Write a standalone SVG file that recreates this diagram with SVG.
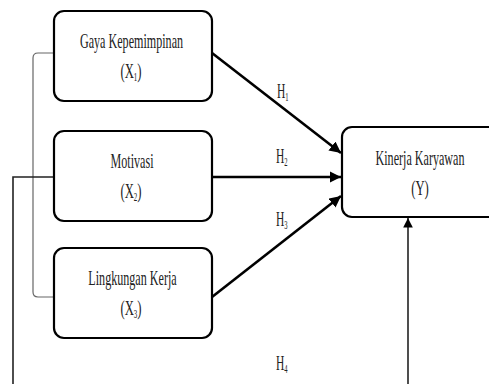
<svg xmlns="http://www.w3.org/2000/svg" width="489" height="384" viewBox="0 0 489 384">
<defs>
<style>
.box{fill:#fff;stroke:#000;stroke-width:2.2}
.t{font-family:"Liberation Serif","Times New Roman",serif;font-size:22px;fill:#222;text-anchor:middle}
.h{font-family:"Liberation Serif","Times New Roman",serif;font-size:21px;fill:#222}
.sub{font-size:12px}
.arr{stroke:#000;stroke-width:2.6;fill:none}
.thin{stroke:#666;stroke-width:1.2;fill:none}
.mid{stroke:#222;stroke-width:1.6;fill:none}
</style>
<marker id="ah" viewBox="0 0 10 10" refX="10" refY="5" markerWidth="4.4" markerHeight="4.4" orient="auto" markerUnits="strokeWidth">
<path d="M0,0 L10,5 L0,10 z" fill="#000"/>
</marker>
<marker id="ah2" viewBox="0 0 10 10" refX="10" refY="5" markerWidth="6" markerHeight="6" orient="auto" markerUnits="strokeWidth">
<path d="M0,0 L10,5 L0,10 z" fill="#000"/>
</marker>
</defs>
<rect width="489" height="384" fill="#fff"/>
<g id="connectors">
<path class="thin" d="M54,53 L38,53 Q33,53 33,58 L33,292 Q33,297 38,297 L54,297"/>
<path class="mid" d="M54,177 L13,177 L13,384"/>
<path class="mid" d="M408,384 L408,218" marker-end="url(#ah2)"/>
<path class="arr" d="M212,53 L341,153" marker-end="url(#ah)"/>
<path class="arr" d="M212,177 L341,177" marker-end="url(#ah)"/>
<path class="arr" d="M212,297 L341,196" marker-end="url(#ah)"/>
<text class="h" transform="translate(277,98) scale(0.55,1)">H<tspan class="sub" dy="3">1</tspan></text>
<text class="h" transform="translate(276,163) scale(0.55,1)">H<tspan class="sub" dy="3">2</tspan></text>
<text class="h" transform="translate(276,226) scale(0.55,1)">H<tspan class="sub" dy="3">3</tspan></text>
<text class="h" transform="translate(276,370) scale(0.55,1)">H<tspan class="sub" dy="3">4</tspan></text>
</g>
<g id="x1">
<rect class="box" x="54" y="11" width="158" height="90" rx="10"/>
<text class="t" transform="translate(131.5,48) scale(0.55,1)">Gaya Kepemimpinan</text>
<text class="t" transform="translate(131,78) scale(0.58,1)">(X<tspan class="sub" dy="3">1</tspan><tspan dy="-3">)</tspan></text>
</g>
<g id="x2">
<rect class="box" x="54" y="131" width="158" height="90" rx="10"/>
<text class="t" transform="translate(132,168) scale(0.55,1)">Motivasi</text>
<text class="t" transform="translate(131,198) scale(0.58,1)">(X<tspan class="sub" dy="3">2</tspan><tspan dy="-3">)</tspan></text>
</g>
<g id="x3">
<rect class="box" x="54" y="248" width="158" height="90" rx="10"/>
<text class="t" transform="translate(132.5,285) scale(0.55,1)">Lingkungan Kerja</text>
<text class="t" transform="translate(131,315) scale(0.58,1)">(X<tspan class="sub" dy="3">3</tspan><tspan dy="-3">)</tspan></text>
</g>
<g id="y">
<rect class="box" x="342" y="127" width="170" height="90" rx="10"/>
<text class="t" transform="translate(420,165) scale(0.55,1)">Kinerja Karyawan</text>
<text class="t" transform="translate(420,195) scale(0.58,1)">(Y)</text>
</g>
</svg>
